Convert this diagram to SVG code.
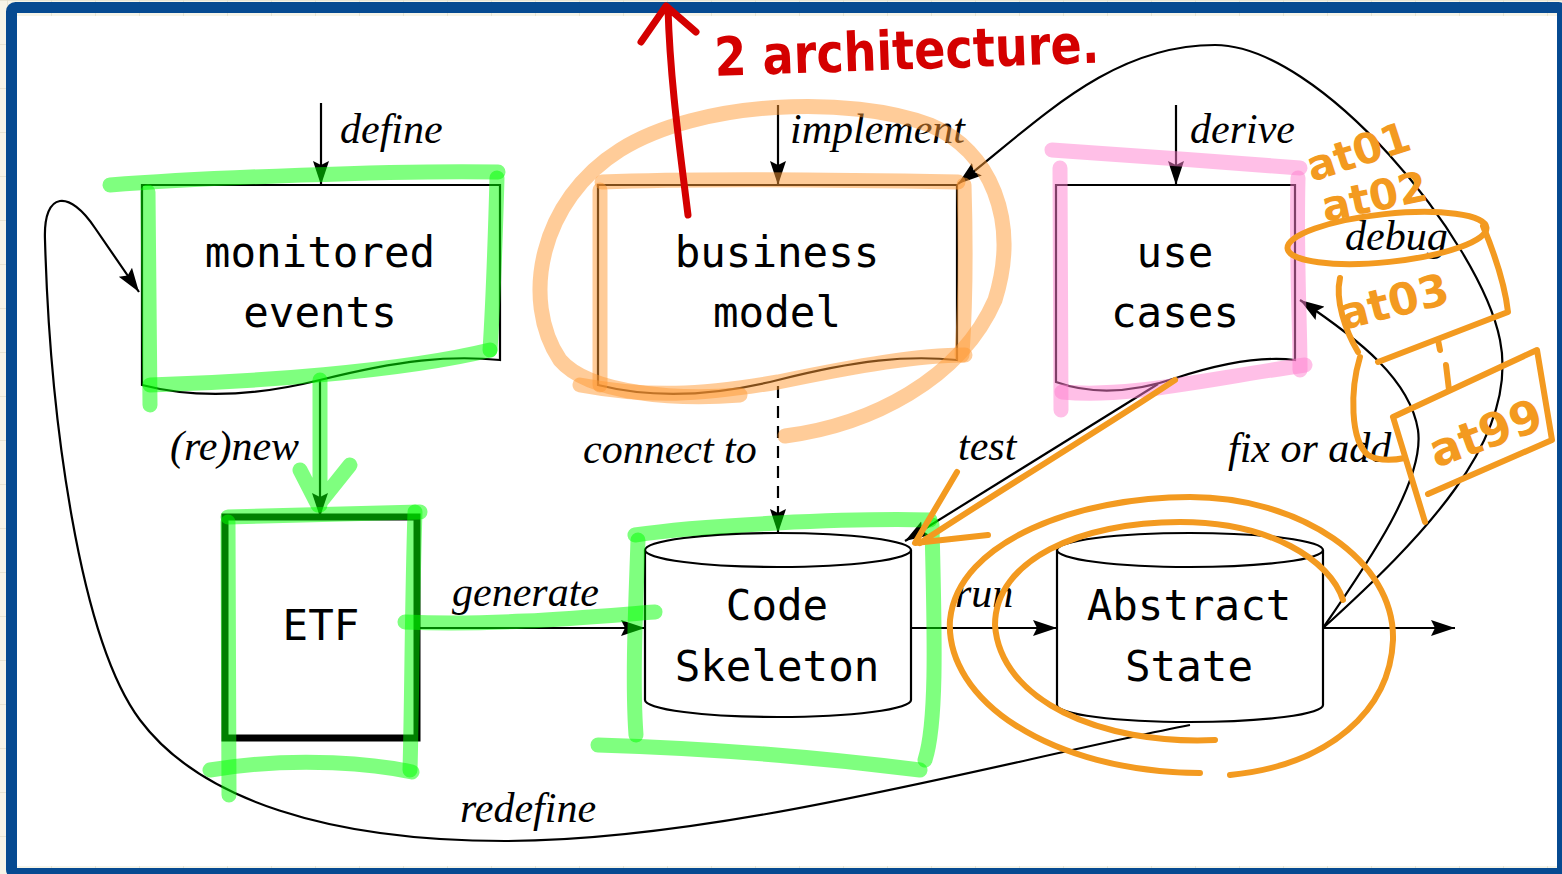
<svg xmlns="http://www.w3.org/2000/svg" width="1562" height="874" viewBox="0 0 1562 874">
  <style>
    .box { fill: #ffffff; stroke: #000000; stroke-width: 2.2; }
    .lbl { font-family: "DejaVu Sans Mono", "Liberation Mono", monospace; font-size: 42.5px; fill: #000000; text-anchor: middle; }
    .it { font-family: "Liberation Serif", "Times New Roman", serif; font-style: italic; font-size: 42px; fill: #000000; }
    .edge { fill: none; stroke: #000000; stroke-width: 2.2; }
    .hl-green { fill: none; stroke: #00ff00; stroke-opacity: 0.5; stroke-width: 15; stroke-linecap: round; stroke-linejoin: round; }
    .hl-peach { fill: none; stroke: #ff9933; stroke-opacity: 0.5; stroke-width: 15; stroke-linecap: round; stroke-linejoin: round; }
    .hl-pink { fill: none; stroke: #ff80d0; stroke-opacity: 0.5; stroke-width: 15; stroke-linecap: round; stroke-linejoin: round; }
    .pen-orange { fill: none; stroke: #f39a20; stroke-width: 6; stroke-linecap: round; stroke-linejoin: round; }
    .pen-red { fill: none; stroke: #d40000; stroke-width: 7; stroke-linecap: round; stroke-linejoin: round; }
    .hand-orange { font-family: "DejaVu Sans", "Liberation Sans", sans-serif; font-weight: bold; fill: #f39a20; }
    .hand-red { font-family: "DejaVu Sans", "Liberation Sans", sans-serif; font-weight: bold; fill: #d40000; }
  </style>
  <defs>
    <marker id="arrow" markerUnits="userSpaceOnUse" markerWidth="26" markerHeight="18" refX="24" refY="9" orient="auto">
      <path d="M0,1 L24,9 L0,17 L4,9 z" fill="#000000"/>
    </marker>
    <pattern id="grid" width="44" height="44" patternUnits="userSpaceOnUse" x="7" y="0">
      <rect width="44" height="44" fill="#f6f4e8"/>
      <path d="M0,0 V44 M0,0 H44" stroke="#e2dfcc" stroke-width="1.5"/>
    </pattern>
  </defs>

  <!-- page frame -->
  <g id="frame">
    <rect x="0" y="0" width="1562" height="874" fill="url(#grid)"/>
    <rect x="11.5" y="7.5" width="1551" height="866" rx="4" fill="none" stroke="#064a91" stroke-width="11"/>
    <rect x="17" y="16" width="1540" height="850" fill="#ffffff"/>
  </g>

  <!-- connectors -->
  <g id="connectors">
    <line class="edge" x1="321" y1="103" x2="321" y2="185" marker-end="url(#arrow)"/>
    <line class="edge" x1="778" y1="105" x2="778" y2="185" marker-end="url(#arrow)"/>
    <line class="edge" x1="1176" y1="105" x2="1176" y2="185" marker-end="url(#arrow)"/>
    <line class="edge" x1="320" y1="380" x2="320" y2="517" marker-end="url(#arrow)"/>
    <line class="edge" x1="778" y1="386" x2="778" y2="533" stroke-dasharray="12,8" marker-end="url(#arrow)"/>
    <line class="edge" x1="417" y1="628" x2="645" y2="628" marker-end="url(#arrow)"/>
    <line class="edge" x1="911" y1="628" x2="1057" y2="628" marker-end="url(#arrow)"/>
    <line class="edge" x1="1323" y1="628" x2="1455" y2="628" marker-end="url(#arrow)"/>
    <line class="edge" x1="1158" y1="384" x2="905" y2="541" marker-end="url(#arrow)"/>
    <path class="edge" d="M1323,628 C1370,560 1425,480 1418,430 C1410,380 1360,340 1300,300" marker-end="url(#arrow)"/>
    <path class="edge" d="M1323,628 C1420,540 1520,440 1500,340 C1480,240 1320,45 1215,45 C1110,45 1040,120 958,184" marker-end="url(#arrow)"/>
    <path class="edge" d="M1190,725 C1000,762 720,841 505,841 C330,841 200,800 140,720 C80,640 50,420 45,240 C43,190 70,190 95,228 L139,292" marker-end="url(#arrow)"/>

    <text class="it" x="340" y="143">define</text>
    <text class="it" x="790" y="143">implement</text>
    <text class="it" x="1190" y="143">derive</text>
    <text class="it" x="170" y="460">(re)new</text>
    <text class="it" x="583" y="463">connect to</text>
    <text class="it" x="958" y="460">test</text>
    <text class="it" x="1228" y="462">fix or add</text>
    <text class="it" x="452" y="606">generate</text>
    <text class="it" x="955" y="607">run</text>
    <text class="it" x="1345" y="250">debug</text>
    <text class="it" x="460" y="822">redefine</text>
  </g>

  <!-- nodes -->
  <g id="monitored-events">
    <path class="box" d="M142,385 L142,185 L500,185 L500,360 C450,355 400,360 320,380 C260,395 200,400 142,385 Z"/>
    <text class="lbl" x="320" y="267">monitored</text>
    <text class="lbl" x="320" y="327">events</text>
  </g>
  <g id="business-model">
    <path class="box" d="M598,385 L598,185 L957,185 L957,360 C907,355 857,360 778,380 C718,395 658,400 598,385 Z"/>
    <text class="lbl" x="777" y="267">business</text>
    <text class="lbl" x="777" y="327">model</text>
  </g>
  <g id="use-cases">
    <path class="box" d="M1056,382 L1056,185 L1295,185 L1295,360 C1262,356 1225,362 1176,378 C1135,392 1095,396 1056,382 Z"/>
    <text class="lbl" x="1175" y="267">use</text>
    <text class="lbl" x="1175" y="327">cases</text>
  </g>
  <g id="etf">
    <rect x="225" y="517" width="192" height="221" fill="#ffffff" stroke="#000000" stroke-width="7"/>
    <text class="lbl" x="321" y="640">ETF</text>
  </g>
  <g id="code-skeleton">
    <path class="box" d="M645,550 L645,700 A133,17 0 0 0 911,700 L911,550"/>
    <ellipse class="box" cx="778" cy="550" rx="133" ry="17"/>
    <text class="lbl" x="777" y="620">Code</text>
    <text class="lbl" x="777" y="681">Skeleton</text>
  </g>
  <g id="abstract-state">
    <path class="box" d="M1057,550 L1057,705 A133,17 0 0 0 1323,705 L1323,550"/>
    <ellipse class="box" cx="1190" cy="550" rx="133" ry="17"/>
    <text class="lbl" x="1189" y="620">Abstract</text>
    <text class="lbl" x="1189" y="681">State</text>
  </g>

  <!-- highlighter marks -->
  <g id="green-marks">
    <path class="hl-green" d="M110,185 C200,178 400,170 498,172"/>
    <path class="hl-green" d="M497,178 C495,250 492,320 490,350"/>
    <path class="hl-green" d="M150,385 C250,382 400,372 490,350"/>
    <path class="hl-green" d="M148,192 L150,405"/>
    <path class="hl-green" d="M320,380 L320,505 M300,470 L318,505 L350,465"/>
    <path class="hl-green" d="M228,517 L420,512"/>
    <path class="hl-green" d="M415,512 C412,600 412,700 410,770"/>
    <path class="hl-green" d="M210,770 C300,755 380,765 412,772"/>
    <path class="hl-green" d="M228,522 L229,795"/>
    <path class="hl-green" d="M405,622 C500,626 600,616 655,612"/>
    <path class="hl-green" d="M635,535 C700,525 850,518 930,520"/>
    <path class="hl-green" d="M638,540 C636,600 632,680 636,735"/>
    <path class="hl-green" d="M932,525 C934,620 938,720 925,760"/>
    <path class="hl-green" d="M598,745 C700,748 800,755 920,770"/>
  </g>
  <g id="peach-marks">
    <path class="hl-peach" d="M602,182 C700,178 850,180 958,182"/>
    <path class="hl-peach" d="M964,185 C966,250 965,310 962,355"/>
    <path class="hl-peach" d="M600,190 L600,385"/>
    <path class="hl-peach" d="M580,385 C650,398 700,395 778,382 C860,365 920,355 965,355"/>
    <path class="hl-peach" d="M785,436 C870,425 960,380 995,300 C1020,220 990,150 930,125 C850,95 700,100 620,150 C540,200 520,300 560,360 C590,395 680,400 740,395"/>
  </g>
  <g id="pink-marks">
    <path class="hl-pink" d="M1052,150 C1130,155 1220,162 1300,168"/>
    <path class="hl-pink" d="M1060,168 L1061,410"/>
    <path class="hl-pink" d="M1062,392 C1130,398 1200,380 1305,365"/>
    <path class="hl-pink" d="M1298,178 C1296,260 1300,320 1300,370"/>
  </g>

  <!-- pen notes -->
  <g id="red-notes">
    <path class="pen-red" d="M688,215 C680,150 670,80 668,8 M641,42 L666,6 L696,32"/>
    <text class="hand-red" x="715" y="76" font-size="54" textLength="385" lengthAdjust="spacingAndGlyphs" transform="rotate(-2 715 76)">2 architecture.</text>
  </g>
  <g id="orange-notes">
    <path class="pen-orange" d="M1175,380 C1100,430 1000,490 920,543"/>
    <path class="pen-orange" d="M957,472 L915,543 L988,535"/>
    <path class="pen-orange" d="M1200,773 C1050,772 945,700 950,620 C958,540 1080,497 1190,497 C1300,497 1395,560 1393,640 C1390,710 1330,765 1230,775"/>
    <path class="pen-orange" d="M1215,740 C1100,745 1000,700 995,625 C995,560 1080,522 1180,522 C1270,522 1330,560 1343,600"/>
    <ellipse class="pen-orange" cx="1387" cy="238" rx="100" ry="24" transform="rotate(-6 1387 238)"/>
    <path class="pen-orange" d="M1340,278 C1335,300 1345,330 1358,352"/>
    <path class="pen-orange" d="M1483,226 C1495,255 1505,285 1508,312 L1378,362"/>
    <path class="pen-orange" d="M1438,340 L1440,350 M1446,365 L1449,390"/>
    <path class="pen-orange" d="M1393,417 L1537,350 L1552,440 L1428,494 M1393,417 L1425,522"/>
    <path class="pen-orange" d="M1360,357 C1350,390 1350,440 1368,455 C1380,462 1395,460 1405,458"/>
    <text class="hand-orange" x="1312" y="182" font-size="42" transform="rotate(-18 1312 182)">at01</text>
    <text class="hand-orange" x="1325" y="222" font-size="42" transform="rotate(-12 1325 222)">at02</text>
    <text class="hand-orange" x="1343" y="330" font-size="44" transform="rotate(-14 1343 330)">at03</text>
    <text class="hand-orange" x="1436" y="468" font-size="46" transform="rotate(-20 1436 468)">at99</text>
  </g>
</svg>
